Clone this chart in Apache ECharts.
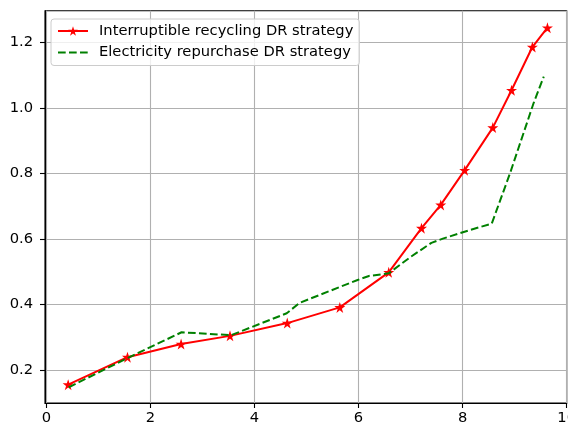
<!DOCTYPE html>
<html>
<head>
<meta charset="utf-8">
<script src="https://cdn.jsdelivr.net/npm/echarts@6/dist/echarts.min.js"></script>
<style>
  html, body { margin: 0; padding: 0; background: #ffffff; }
  #chart { width: 568px; height: 428px; }
</style>
</head>
<body>
<div id="chart"></div>
<script>
// Interruptible recycling DR strategy (red, star markers)
const recycleX = [0.42, 1.56, 2.59, 3.53, 4.63, 5.64, 6.58, 7.21, 7.58, 8.04, 8.58, 8.94, 9.34, 9.63];
const recycleY = [0.155, 0.239, 0.279, 0.304, 0.343, 0.391, 0.498, 0.633, 0.704, 0.810, 0.940, 1.054, 1.186, 1.245];

// Electricity repurchase DR strategy (green, dashed)
const repurchaseX = [0.43, 1.57, 2.60, 3.55, 4.62, 4.87, 5.97, 6.20, 6.58, 7.00, 7.40, 7.62, 8.14, 8.56, 8.91, 9.36, 9.56];
const repurchaseY = [0.147, 0.237, 0.315, 0.306, 0.373, 0.405, 0.474, 0.487, 0.495, 0.545, 0.588, 0.601, 0.627, 0.647, 0.800, 1.013, 1.096];

// Tick labels
const xTicks = [0, 2, 4, 6, 8, 10];
const yTicks = [0.2, 0.4, 0.6, 0.8, 1.0, 1.2];

const seriesNames = ['Interruptible recycling DR strategy', 'Electricity repurchase DR strategy'];

// Five-pointed star outline as an SVG path
function starPath() {
  const pts = [];
  const outer = 50, inner = 50 * 0.381966;
  for (let i = 0; i < 10; i++) {
    const r = i % 2 === 0 ? outer : inner;
    const a = -Math.PI / 2 + i * Math.PI / 5;
    pts.push((50 + r * Math.cos(a)).toFixed(2) + ',' + (50 + r * Math.sin(a)).toFixed(2));
  }
  return 'path://M' + pts.join('L') + 'Z';
}

const zip = (xs, ys) => xs.map((x, i) => [x, ys[i]]);

const font = 'DejaVu Sans';
const fontSize = 14.7;
const chart = echarts.init(document.getElementById('chart'), null, { renderer: 'canvas' });

chart.setOption({
  backgroundColor: '#ffffff',
  animation: false,
  grid: {
    left: 45, right: 1.3, top: 10.7, bottom: 25,
    containLabel: false,
    outerBoundsMode: 'none',
    show: true, borderColor: '#000000', borderWidth: 1.1, backgroundColor: 'transparent'
  },
  legend: {
    orient: 'vertical',
    left: 51, top: 19,
    itemWidth: 30, itemHeight: 12, itemGap: 5.5,
    padding: [4, 6, 5, 6],
    backgroundColor: 'rgba(255,255,255,0.8)',
    borderColor: '#cccccc', borderWidth: 1, borderRadius: 3,
    textStyle: { fontFamily: font, fontSize: fontSize, color: '#000000', lineHeight: 16, padding: [0, 0, 0, 6] },
    data: [
      { name: seriesNames[0] },
      { name: seriesNames[1], itemStyle: { opacity: 0 } }
    ]
  },
  xAxis: {
    type: 'value',
    min: -0.025, max: 10,
    axisLine: { show: true, onZero: false, lineStyle: { color: '#000000', width: 1.1 } },
    axisTick: { show: true, inside: false, length: 5, customValues: xTicks, lineStyle: { color: '#000000', width: 1.1 } },
    axisLabel: { customValues: xTicks, showMinLabel: true, showMaxLabel: true, hideOverlap: false, margin: 8, fontFamily: font, fontSize: fontSize, color: '#000000' },
    splitLine: { show: true, lineStyle: { color: '#b0b0b0', width: 1.1 } }
  },
  yAxis: {
    type: 'value',
    min: 0.099, max: 1.297,
    axisLine: { show: true, onZero: false, lineStyle: { color: '#000000', width: 1.1 } },
    axisTick: { show: true, inside: false, length: 5, customValues: yTicks, lineStyle: { color: '#000000', width: 1.1 } },
    axisLabel: {
      customValues: yTicks, showMinLabel: true, showMaxLabel: true, margin: 12,
      fontFamily: font, fontSize: fontSize, color: '#000000',
      formatter: v => v.toFixed(1)
    },
    splitLine: { show: true, lineStyle: { color: '#b0b0b0', width: 1.1 } }
  },
  series: [
    {
      name: seriesNames[0],
      type: 'line',
      data: zip(recycleX, recycleY),
      symbol: starPath(),
      symbolSize: 11,
      showAllSymbol: true,
      lineStyle: { color: '#ff0000', width: 2 },
      itemStyle: { color: '#ff0000' },
      z: 3
    },
    {
      name: seriesNames[1],
      type: 'line',
      data: zip(repurchaseX, repurchaseY),
      symbol: 'none',
      lineStyle: { color: '#008000', width: 2, type: [7.7, 3.3] },
      itemStyle: { color: '#008000' },
      z: 4
    }
  ]
});
</script>
</body>
</html>
